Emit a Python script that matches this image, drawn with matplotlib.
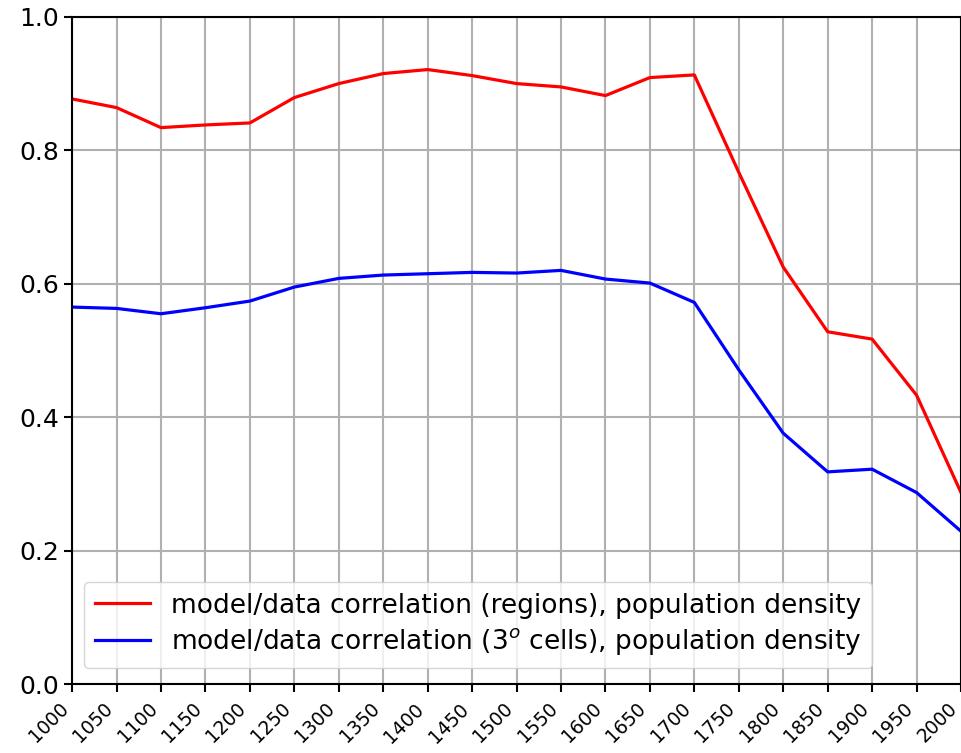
import numpy as np
import matplotlib.pyplot as plt
from matplotlib.transforms import ScaledTranslation

years = np.arange(1000, 2001, 50)
corr_regions = [0.877, 0.864, 0.834, 0.838, 0.841, 0.879, 0.900, 0.915, 0.921, 0.912,
                0.900, 0.895, 0.882, 0.909, 0.913, 0.767, 0.625, 0.528, 0.517, 0.433, 0.287]
corr_cells = [0.565, 0.563, 0.555, 0.564, 0.574, 0.595, 0.608, 0.613, 0.615, 0.617,
              0.616, 0.620, 0.607, 0.601, 0.572, 0.471, 0.376, 0.318, 0.322, 0.287, 0.229]

fig = plt.figure(figsize=(9.61, 7.53), dpi=100)
ax = fig.add_axes([0.075, 0.0916, 0.925, 0.886])

ax.plot(years, corr_regions, color='red', lw=2.3,
        label='model/data correlation (regions), population density')
ax.plot(years, corr_cells, color='blue', lw=2.3,
        label='model/data correlation (3$^o$ cells), population density')

ax.set_xlim(1000, 2000)
ax.set_ylim(0, 1.0)
ax.set_xticks(years)
ax.set_xticklabels([str(y) for y in years], rotation=45, ha='right', fontsize=13.5)
# shift the rotated labels a little to the left of their ticks
shift = ScaledTranslation(-0.06, 0, fig.dpi_scale_trans)
for lab in ax.get_xticklabels():
    lab.set_transform(lab.get_transform() + shift)
ax.set_yticks(np.arange(0, 1.01, 0.2))
ax.tick_params(axis='y', labelsize=18, width=1.5, length=6)
ax.tick_params(axis='x', width=1.5, length=6, pad=5)
for s in ax.spines.values():
    s.set_linewidth(1.5)
ax.grid(True, color='#b0b0b0', lw=1.5)

ax.legend(loc='lower left', bbox_to_anchor=(0.0135, 0.024), borderaxespad=0,
          fontsize=19, handlelength=2.1, labelspacing=0.3)

plt.savefig('out.png', dpi=100)
